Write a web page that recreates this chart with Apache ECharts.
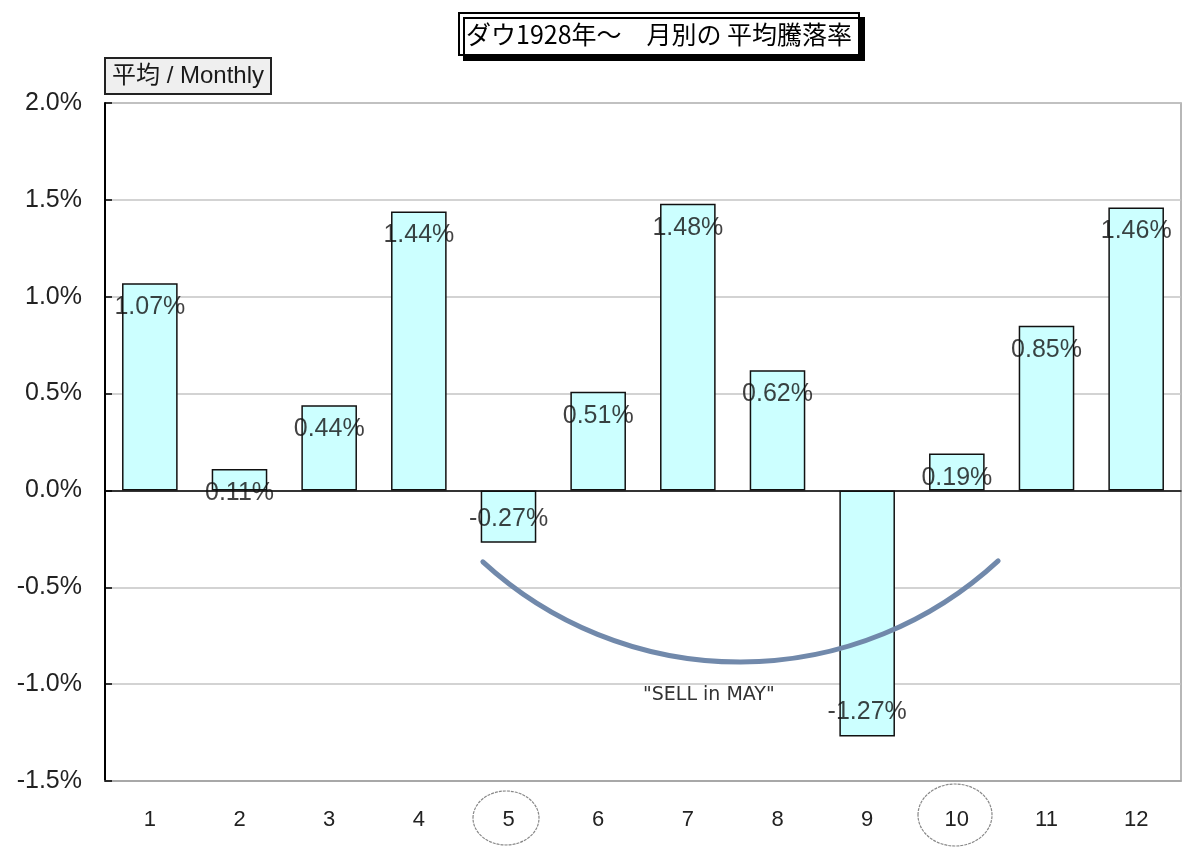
<!DOCTYPE html>
<html>
<head>
<meta charset="utf-8">
<script src="https://cdn.jsdelivr.net/npm/echarts@6/dist/echarts.min.js"></script>
<style>
  html, body { margin: 0; padding: 0; background: #fff; }
  #main { width: 1200px; height: 851px; }
</style>
</head>
<body>
<div id="main"></div>
<script>
// ダウ 月別平均騰落率 (%)
var months = ['1', '2', '3', '4', '5', '6', '7', '8', '9', '10', '11', '12'];
var avgReturn = [1.07, 0.11, 0.44, 1.44, -0.27, 0.51, 1.48, 0.62, -1.27, 0.19, 0.85, 1.46];
var yTicks = [-1.5, -1.0, -0.5, 0.0, 0.5, 1.0, 1.5, 2.0];

var chart = echarts.init(document.getElementById('main'));

var labelData = avgReturn.map(function (v) {
    return {
        value: v,
        label: { offset: [0, v >= 0 ? 24 : -24] }
    };
});

var option = {
    animation: false,
    backgroundColor: '#fff',
    title: [{
        text: 'ダウ1928年～　月別の 平均騰落率',
        left: 459,
        top: 13,
        padding: [8, 7],
        backgroundColor: '#fff',
        borderColor: '#000',
        borderWidth: 2,
        shadowColor: '#000',
        shadowBlur: 0,
        shadowOffsetX: 5,
        shadowOffsetY: 5,
        textStyle: {
            fontFamily: 'Noto Sans CJK JP',
            fontSize: 25,
            fontWeight: 'normal',
            color: '#000',
            lineHeight: 26
        }
    }, {
        text: '平均 / Monthly',
        left: 105,
        top: 58,
        padding: [6, 7],
        backgroundColor: '#efefef',
        borderColor: '#222',
        borderWidth: 2,
        textStyle: {
            fontFamily: 'Liberation Sans, Noto Sans CJK JP',
            fontSize: 24,
            fontWeight: 'normal',
            color: '#1a1a1a',
            lineHeight: 24
        }
    }],
    grid: {
        left: 105,
        right: 19,
        top: 103,
        bottom: 70,
        show: true,
        borderColor: '#a0a0a0',
        borderWidth: 1.5
    },
    xAxis: [{
        type: 'category',
        data: months,
        position: 'bottom',
        axisLine: { onZero: false, lineStyle: { color: '#a0a0a0', width: 1.5 } },
        axisTick: { show: false },
        axisLabel: {
            margin: 28,
            fontFamily: 'Liberation Sans',
            fontSize: 22,
            color: '#222'
        }
    }, {
        type: 'category',
        data: months,
        position: 'bottom',
        axisLine: { onZero: true, lineStyle: { color: '#000', width: 1.5 } },
        axisTick: { inside: true, length: 7, lineStyle: { color: '#000', width: 1.5 } },
        axisLabel: { show: false }
    }],
    yAxis: {
        type: 'value',
        min: yTicks[0],
        max: yTicks[yTicks.length - 1],
        interval: 0.5,
        axisLine: { show: true, lineStyle: { color: '#000', width: 2 } },
        axisTick: { show: true, inside: true, length: 7, lineStyle: { color: '#000', width: 1.5 } },
        splitLine: { lineStyle: { color: '#c4c4c4', width: 1.5 } },
        axisLabel: {
            margin: 23,
            fontFamily: 'Liberation Sans',
            fontSize: 25,
            color: '#222',
            formatter: function (v) { return v.toFixed(1) + '%'; }
        }
    },
    series: [{
        name: '平均',
        type: 'bar',
        xAxisIndex: 0,
        data: avgReturn,
        barWidth: '62%',
        itemStyle: {
            color: '#ccffff',
            borderColor: '#111',
            borderWidth: 1.5
        }
    }, {
        name: 'ラベル',
        type: 'scatter',
        xAxisIndex: 0,
        data: labelData,
        symbol: 'circle',
        symbolSize: 1,
        z: 5,
        itemStyle: { color: 'transparent' },
        label: {
            show: true,
            position: 'inside',
            fontFamily: 'Liberation Sans',
            fontSize: 25,
            color: '#111',
            formatter: function (p) { return p.value.toFixed(2) + '%'; }
        }
    }],
    graphic: [{
        type: 'arc',
        z: 100,
        shape: { cx: 740, cy: 282, r: 380, startAngle: 0.824, endAngle: 2.314 },
        style: { stroke: '#7189ab', lineWidth: 5, fill: null, lineCap: 'round' }
    }, {
        type: 'text',
        z: 100,
        left: 643,
        top: 686,
        style: {
            text: '"SELL in MAY"',
            fontFamily: 'DejaVu Sans',
            fontSize: 19,
            fill: '#333'
        }
    }, {
        type: 'ellipse',
        z: 100,
        shape: { cx: 506, cy: 818, rx: 33, ry: 27 },
        style: { stroke: '#888', lineWidth: 1.2, fill: null, lineDash: [3, 1] }
    }, {
        type: 'ellipse',
        z: 100,
        shape: { cx: 955, cy: 815, rx: 37, ry: 31 },
        style: { stroke: '#888', lineWidth: 1.2, fill: null, lineDash: [3, 1] }
    }]
};

chart.setOption(option);
window.addEventListener('resize', function () {
    chart.resize();
});
</script>
</body>
</html>
